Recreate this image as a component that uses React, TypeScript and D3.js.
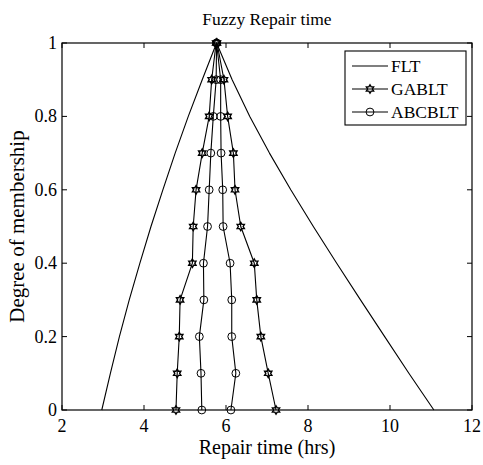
import React from "react";
import * as d3 from "d3";

// Membership levels (alpha cuts) shared by every series
const alphaLevels = [0, 0.1, 0.2, 0.3, 0.4, 0.5, 0.6, 0.7, 0.8, 0.9, 1];

// FLT: left and right spreads of the fuzzy repair time at each level
const fltLeft = [2.97, 3.18, 3.4, 3.64, 3.9, 4.17, 4.46, 4.76, 5.08, 5.42, 5.77];
const fltRight = [11.07, 10.46, 9.87, 9.28, 8.7, 8.13, 7.58, 7.06, 6.58, 6.15, 5.77];

// GABLT
const gaLeft = [4.78, 4.81, 4.86, 4.88, 5.18, 5.2, 5.27, 5.42, 5.59, 5.65, 5.76];
const gaRight = [7.22, 7.03, 6.85, 6.75, 6.69, 6.36, 6.22, 6.18, 6.04, 5.95, 5.78];

// ABCBLT
const abcLeft = [5.41, 5.39, 5.35, 5.46, 5.45, 5.55, 5.59, 5.63, 5.69, 5.76, 5.77];
const abcRight = [6.12, 6.24, 6.14, 6.14, 6.1, 5.93, 5.92, 5.88, 5.87, 5.87, 5.77];

const xTicks = [2, 4, 6, 8, 10, 12];
const yTicks = [0, 0.2, 0.4, 0.6, 0.8, 1];
const seriesNames = ["FLT", "GABLT", "ABCBLT"];

type Pt = [number, number];

// Walk up the left spread, then back down the right spread
function outline(left: number[], right: number[]): Pt[] {
  const up: Pt[] = left.map((x, i) => [x, alphaLevels[i]]);
  const down: Pt[] = right.map((x, i) => [x, alphaLevels[i]] as Pt).reverse();
  return [...up, ...down];
}

const W = 483;
const H = 465;
const M = { left: 62, right: 472, top: 43, bottom: 410 };
const FONT = "'Liberation Serif', 'Times New Roman', serif";

function hexagram(cx: number, cy: number, R: number): string {
  const r = R / Math.sqrt(3);
  const pts: string[] = [];
  for (let k = 0; k < 12; k++) {
    const a = (-90 + k * 30) * (Math.PI / 180);
    const rad = k % 2 === 0 ? R : r;
    pts.push(`${cx + rad * Math.cos(a)},${cy + rad * Math.sin(a)}`);
  }
  return "M" + pts.join("L") + "Z";
}

export default function App() {
  const x = d3.scaleLinear().domain([2, 12]).range([M.left, M.right]);
  const y = d3.scaleLinear().domain([0, 1]).range([M.bottom, M.top]);
  const line = d3
    .line<Pt>()
    .x((d) => x(d[0]))
    .y((d) => y(d[1]));

  const flt = outline(fltLeft, fltRight);
  const ga = outline(gaLeft, gaRight);
  const abc = outline(abcLeft, abcRight);

  const tickLen = 5;
  const legend = { x0: 345, x1: 466, y0: 51, y1: 125 };
  const legendRows = [66, 89, 112];

  return (
    <svg width={W} height={H} style={{ display: "block", position: "absolute", left: 0, top: 0 }}>
      <rect x={0} y={0} width={W} height={H} fill="#fff" />

      {/* series */}
      <path d={line(flt) ?? ""} fill="none" stroke="#000" strokeWidth={1.1} strokeLinejoin="round" />
      <path d={line(ga) ?? ""} fill="none" stroke="#000" strokeWidth={1.1} />
      {ga.map((p, i) => (
        <path key={"g" + i} d={hexagram(x(p[0]), y(p[1]), 4.2)} fill="none" stroke="#000" strokeWidth={1.4} />
      ))}
      <path d={line(abc) ?? ""} fill="none" stroke="#000" strokeWidth={1.1} />
      {abc.map((p, i) => (
        <circle key={"a" + i} cx={x(p[0])} cy={y(p[1])} r={3.9} fill="none" stroke="#000" strokeWidth={1} />
      ))}

      {/* axes box and ticks */}
      <rect
        x={M.left}
        y={M.top}
        width={M.right - M.left}
        height={M.bottom - M.top}
        fill="none"
        stroke="#000"
        strokeWidth={1.2}
      />
      {xTicks.map((t) => (
        <g key={"xt" + t}>
          <line x1={x(t)} x2={x(t)} y1={M.bottom} y2={M.bottom - tickLen} stroke="#000" />
          <line x1={x(t)} x2={x(t)} y1={M.top} y2={M.top + tickLen} stroke="#000" />
          <text x={x(t)} y={432} textAnchor="middle" fontFamily={FONT} fontSize={18}>
            {t}
          </text>
        </g>
      ))}
      {yTicks.map((t) => (
        <g key={"yt" + t}>
          <line x1={M.left} x2={M.left + tickLen} y1={y(t)} y2={y(t)} stroke="#000" />
          <line x1={M.right} x2={M.right - tickLen} y1={y(t)} y2={y(t)} stroke="#000" />
          <text x={57} y={y(t) + 6} textAnchor="end" fontFamily={FONT} fontSize={18}>
            {t}
          </text>
        </g>
      ))}

      {/* labels */}
      <text x={(M.left + M.right) / 2} y={25} textAnchor="middle" fontFamily={FONT} fontSize={17.5}>
        Fuzzy Repair time
      </text>
      <text x={(M.left + M.right) / 2} y={454} textAnchor="middle" fontFamily={FONT} fontSize={20}>
        Repair time (hrs)
      </text>
      <text
        transform={`translate(24,${(M.top + M.bottom) / 2}) rotate(-90)`}
        textAnchor="middle"
        fontFamily={FONT}
        fontSize={21}
      >
        Degree of membership
      </text>

      {/* legend */}
      <rect
        x={legend.x0}
        y={legend.y0}
        width={legend.x1 - legend.x0}
        height={legend.y1 - legend.y0}
        fill="#fff"
        stroke="#000"
        strokeWidth={1.1}
      />
      {seriesNames.map((name, i) => {
        const ly = legendRows[i];
        return (
          <g key={name}>
            <line x1={352} x2={388} y1={ly} y2={ly} stroke="#000" strokeWidth={1.1} />
            {i === 1 && <path d={hexagram(370, ly, 4.2)} fill="none" stroke="#000" strokeWidth={1.4} />}
            {i === 2 && <circle cx={370} cy={ly} r={3.9} fill="none" stroke="#000" />}
            <text x={391} y={ly + 6} fontFamily={FONT} fontSize={17.5}>
              {name}
            </text>
          </g>
        );
      })}
    </svg>
  );
}
